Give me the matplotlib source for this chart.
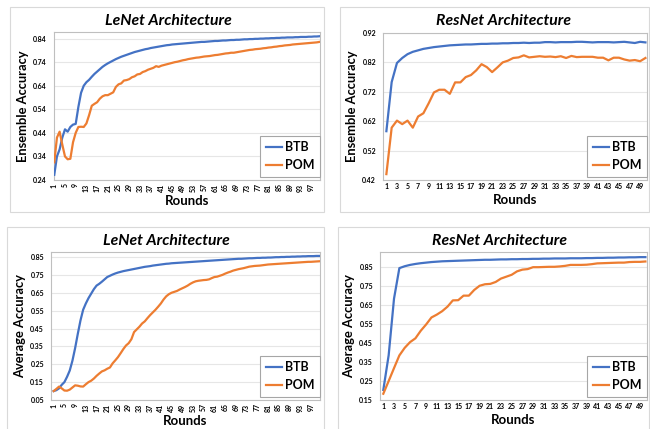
import matplotlib
matplotlib.use("Agg")
import matplotlib.pyplot as plt
from matplotlib.patches import Rectangle

plt.rcParams['font.family'] = ['Lato', 'DejaVu Sans']

BLUE = '#4472C4'
ORANGE = '#ED7D31'

lenet_rounds = list(range(1, 101))
resnet_rounds = list(range(1, 51))

lenet_ens_btb = [
    0.262, 0.340, 0.370, 0.420, 0.455, 0.445, 0.465, 0.475, 0.478, 0.550,
    0.610, 0.640, 0.655, 0.665, 0.678, 0.690, 0.700, 0.710, 0.720, 0.728,
    0.735, 0.741, 0.747, 0.753, 0.758, 0.763, 0.767, 0.771, 0.775, 0.779,
    0.783, 0.786, 0.789, 0.792, 0.795, 0.797, 0.800, 0.802, 0.804, 0.806,
    0.808, 0.810, 0.812, 0.813, 0.815, 0.816, 0.817, 0.818, 0.819, 0.820,
    0.821, 0.822, 0.823, 0.824, 0.825, 0.826, 0.826, 0.827, 0.828, 0.829,
    0.830, 0.830, 0.831, 0.832, 0.832, 0.833, 0.834, 0.834, 0.835, 0.835,
    0.836, 0.837, 0.837, 0.838, 0.838, 0.839, 0.839, 0.840, 0.840, 0.841,
    0.841, 0.842, 0.842, 0.843, 0.843, 0.844, 0.844, 0.845, 0.845, 0.845,
    0.846, 0.846, 0.847, 0.847, 0.847, 0.848, 0.848, 0.849, 0.849, 0.850]
lenet_ens_pom = [
    0.315, 0.420, 0.445, 0.390, 0.340, 0.328, 0.330, 0.400, 0.440, 0.465,
    0.466, 0.465, 0.480, 0.515, 0.555, 0.563, 0.570, 0.585, 0.595, 0.600,
    0.600, 0.606, 0.612, 0.635, 0.646, 0.650, 0.662, 0.664, 0.668, 0.676,
    0.680, 0.688, 0.690, 0.698, 0.702, 0.708, 0.712, 0.716, 0.723, 0.720,
    0.725, 0.728, 0.731, 0.734, 0.737, 0.740, 0.742, 0.745, 0.748, 0.750,
    0.753, 0.755, 0.757, 0.759, 0.760, 0.762, 0.764, 0.765, 0.766, 0.768,
    0.770, 0.771, 0.773, 0.775, 0.777, 0.778, 0.780, 0.780, 0.782, 0.784,
    0.786, 0.788, 0.790, 0.792, 0.793, 0.795, 0.796, 0.797, 0.799, 0.800,
    0.802, 0.803, 0.805, 0.806, 0.808, 0.809, 0.811, 0.812, 0.813, 0.815,
    0.816, 0.817, 0.818, 0.819, 0.820, 0.821, 0.822, 0.823, 0.824, 0.826]

lenet_avg_btb = [
    0.100, 0.105, 0.115, 0.135, 0.150, 0.180, 0.215, 0.270, 0.340, 0.420,
    0.495, 0.555, 0.590, 0.620, 0.645, 0.670, 0.690, 0.700, 0.712, 0.725,
    0.738, 0.745, 0.752, 0.758, 0.763, 0.767, 0.771, 0.774, 0.777, 0.780,
    0.783, 0.786, 0.789, 0.792, 0.795, 0.797, 0.799, 0.802, 0.804, 0.806,
    0.808, 0.810, 0.812, 0.813, 0.815, 0.816, 0.817, 0.818, 0.819, 0.820,
    0.821, 0.822, 0.823, 0.824, 0.825, 0.826, 0.827, 0.828, 0.829, 0.830,
    0.831, 0.832, 0.833, 0.834, 0.835, 0.836, 0.837, 0.838, 0.839, 0.840,
    0.840, 0.841, 0.842, 0.843, 0.843, 0.844, 0.845, 0.845, 0.846, 0.846,
    0.847, 0.847, 0.848, 0.849, 0.849, 0.850, 0.850, 0.851, 0.851, 0.852,
    0.852, 0.853, 0.853, 0.854, 0.854, 0.855, 0.855, 0.855, 0.856, 0.856]
lenet_avg_pom = [
    0.100, 0.112, 0.125, 0.115, 0.103, 0.102, 0.108, 0.120, 0.132, 0.130,
    0.126, 0.125, 0.138, 0.150, 0.158, 0.170, 0.185, 0.198, 0.210, 0.216,
    0.225, 0.232, 0.255, 0.272, 0.290, 0.312, 0.335, 0.355, 0.368, 0.390,
    0.430, 0.445, 0.460, 0.478, 0.490, 0.508, 0.525, 0.540, 0.555, 0.572,
    0.590, 0.612, 0.630, 0.642, 0.650, 0.655, 0.660, 0.668, 0.675, 0.682,
    0.690, 0.700, 0.708, 0.714, 0.717, 0.719, 0.721, 0.722, 0.725, 0.732,
    0.738, 0.740, 0.745, 0.750, 0.757, 0.763, 0.768, 0.774, 0.778, 0.782,
    0.785, 0.788, 0.792, 0.796, 0.798, 0.800, 0.801, 0.802, 0.804, 0.806,
    0.808, 0.809, 0.810, 0.811, 0.812, 0.813, 0.814, 0.815, 0.816, 0.817,
    0.818, 0.819, 0.820, 0.821, 0.822, 0.823, 0.823, 0.824, 0.825, 0.826]

resnet_ens_btb = [
    0.586, 0.753, 0.818, 0.835, 0.848, 0.856, 0.861, 0.866, 0.869, 0.872,
    0.874, 0.876, 0.878, 0.879, 0.880, 0.881, 0.881, 0.882, 0.883, 0.883,
    0.884, 0.884, 0.885, 0.885, 0.886, 0.886, 0.887, 0.886, 0.887, 0.887,
    0.889, 0.889, 0.888, 0.889, 0.889, 0.889, 0.890, 0.890, 0.889, 0.888,
    0.889, 0.889, 0.889, 0.888, 0.889, 0.890, 0.888, 0.886, 0.890, 0.888]
resnet_ens_pom = [
    0.440, 0.598, 0.622, 0.610, 0.622, 0.598, 0.636, 0.647, 0.681, 0.718,
    0.727, 0.727, 0.713, 0.752, 0.752, 0.770, 0.777, 0.793, 0.814, 0.804,
    0.787, 0.803, 0.820, 0.826, 0.835, 0.837, 0.844, 0.837, 0.839, 0.841,
    0.839, 0.840, 0.838, 0.841, 0.835, 0.842, 0.838, 0.839, 0.839, 0.839,
    0.836, 0.836, 0.827, 0.836, 0.836, 0.830, 0.826, 0.828, 0.824, 0.835]

resnet_avg_btb = [
    0.203, 0.386, 0.684, 0.845, 0.855, 0.862, 0.867, 0.871, 0.874, 0.877,
    0.879, 0.881, 0.882, 0.883, 0.884, 0.885, 0.886, 0.887, 0.888, 0.889,
    0.889, 0.890, 0.891, 0.891, 0.892, 0.892, 0.893, 0.893, 0.894, 0.894,
    0.895, 0.895, 0.896, 0.896, 0.896, 0.897, 0.897, 0.897, 0.898, 0.898,
    0.899, 0.899, 0.900, 0.900, 0.901, 0.901, 0.902, 0.902, 0.903, 0.903]
resnet_avg_pom = [
    0.183, 0.250, 0.318, 0.385, 0.425, 0.455, 0.475, 0.515, 0.548, 0.585,
    0.600, 0.618, 0.642, 0.675, 0.676, 0.700, 0.700, 0.730, 0.752, 0.760,
    0.762, 0.772, 0.790, 0.800, 0.810, 0.828, 0.837, 0.840, 0.850, 0.850,
    0.851, 0.852, 0.852, 0.854, 0.857, 0.862, 0.862, 0.862, 0.863, 0.866,
    0.870, 0.871, 0.872, 0.873, 0.874, 0.874, 0.877, 0.878, 0.878, 0.880]

yticks_a = [0.24, 0.34, 0.44, 0.54, 0.64, 0.74, 0.84]
yticks_b = [0.42, 0.52, 0.62, 0.72, 0.82, 0.92]
yticks_c = [0.05, 0.15, 0.25, 0.35, 0.45, 0.55, 0.65, 0.75, 0.85]
yticks_d = [0.15, 0.25, 0.35, 0.45, 0.55, 0.65, 0.75, 0.85]

lenet_xticks = list(range(1, 101, 4))
resnet_xticks = list(range(1, 51, 2))

W, H = 650, 429
fig = plt.figure(figsize=(6.5, 4.29), dpi=100)
fig.patch.set_facecolor('white')

# panel frames (pixel boxes: x0, y0, x1, y1)
frames = [(10, 7, 324, 212), (340, 7, 649, 212), (7, 227, 324, 432), (338, 227, 649, 432)]
for x0, y0, x1, y1 in frames:
    fig.patches.append(Rectangle((x0 / W, 1 - y1 / H), (x1 - x0) / W, (y1 - y0) / H,
                                 transform=fig.transFigure, fill=False,
                                 edgecolor='#d9d9d9', linewidth=0.8, zorder=0))


def ax_at(x0, y0, x1, y1):
    return fig.add_axes([x0 / W, 1 - y1 / H, (x1 - x0) / W, (y1 - y0) / H])


panels = [
    dict(box=(54, 32, 320, 180), x=lenet_rounds, btb=lenet_ens_btb, pom=lenet_ens_pom,
         title='LeNet Architecture', ylabel='Ensemble Accuracy', yticks=yticks_a,
         ylim=(0.24, 0.868), xticks=lenet_xticks, xlim=(0.9, 100.2), rot=90,
         tpos=(168, 21)),
    dict(box=(383, 33, 647, 180), x=resnet_rounds, btb=resnet_ens_btb, pom=resnet_ens_pom,
         title='ResNet Architecture', ylabel='Ensemble Accuracy', yticks=yticks_b,
         ylim=(0.42, 0.92), xticks=resnet_xticks, xlim=(0.36, 50.3), rot=0,
         tpos=(503, 21)),
    dict(box=(51, 252, 320, 400), x=lenet_rounds, btb=lenet_avg_btb, pom=lenet_avg_pom,
         title='LeNet Architecture', ylabel='Average Accuracy', yticks=yticks_c,
         ylim=(0.05, 0.878), xticks=lenet_xticks, xlim=(0.0, 100.4), rot=90,
         tpos=(166, 241)),
    dict(box=(380, 252, 647, 400), x=resnet_rounds, btb=resnet_avg_btb, pom=resnet_avg_pom,
         title='ResNet Architecture', ylabel='Average Accuracy', yticks=yticks_d,
         ylim=(0.15, 0.93), xticks=resnet_xticks, xlim=(0.38, 50.3), rot=0,
         tpos=(500, 241)),
]

for p in panels:
    ax = ax_at(*p['box'])
    ax.plot(p['x'], p['btb'], color=BLUE, lw=1.6, label='BTB', zorder=3)
    ax.plot(p['x'], p['pom'], color=ORANGE, lw=1.6, label='POM', zorder=3)
    ax.set_xlim(*p['xlim'])
    ax.set_ylim(*p['ylim'])
    ax.set_yticks(p['yticks'])
    ax.set_yticklabels([f'{v:.2f}' for v in p['yticks']])
    ax.set_xticks(p['xticks'])
    ax.set_xticklabels([str(v) for v in p['xticks']], rotation=p['rot'])
    ax.tick_params(axis='x', length=0, labelsize=5, pad=2.5)
    ax.tick_params(axis='y', length=0, labelsize=5, pad=5)
    for lab in ax.get_xticklabels() + ax.get_yticklabels():
        lab.set_fontweight('bold')
    ax.grid(axis='y', color='#e6e6e6', lw=0.8, zorder=0)
    ax.set_axisbelow(True)
    for s in ax.spines.values():
        s.set_color('#bfbfbf')
        s.set_linewidth(0.8)
    tx, ty = p['tpos']
    fig.text(tx / W, 1 - ty / H, p['title'], fontsize=11.3, fontweight='bold',
             style='italic', ha='center', va='center')
    ax.set_ylabel(p['ylabel'], fontsize=9.3, fontweight='bold', labelpad=3)
    ax.set_xlabel('Rounds', fontsize=9.5, fontweight='bold', labelpad=2.5)
    leg = ax.legend(loc='lower right', bbox_to_anchor=(1.0, 0.02), borderaxespad=0,
                    fancybox=False, frameon=True, prop={'weight': 'bold', 'size': 9},
                    handlelength=1.35, handletextpad=0.2, labelspacing=0.5, borderpad=0.45)
    leg.get_frame().set_edgecolor('#a6a6a6')
    leg.get_frame().set_linewidth(0.8)
    leg.get_frame().set_alpha(1)

fig.savefig('out.png', dpi=100, facecolor='white')
